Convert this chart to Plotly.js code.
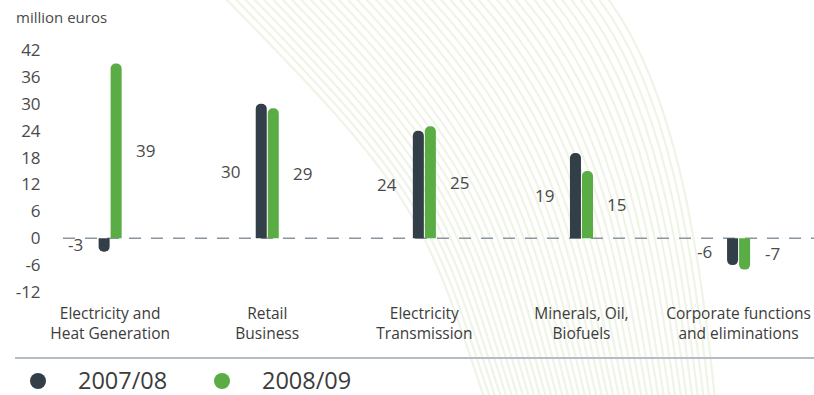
<!DOCTYPE html>
<html><head><meta charset="utf-8">
<script src="https://cdn.plot.ly/plotly-3.0.1.min.js"></script>
<style>html,body{margin:0;padding:0;background:#fff}#chart{width:814px;height:395px}</style>
</head><body><div id="chart"></div>
<script>
// ---- data ----
const categories = ['Electricity and<br>Heat Generation','Retail<br>Business','Electricity<br>Transmission','Minerals, Oil,<br>Biofuels','Corporate functions<br>and eliminations'];
const seriesNames = ['2007/08','2008/09'];
const values2007 = [-3, 30, 24, 19, -6];
const values2008 = [39, 29, 25, 15, -7];
const yTickVals = [-12, -6, 0, 6, 12, 18, 24, 30, 36, 42];
const unitLabel = 'million euros';

// ---- style ----
const W = 814, H = 395, ML = 63, MR = 0, MT = 50, MB = 103;
const PW = W - ML - MR, PH = H - MT - MB;
const px = x => (x - ML) / PW;            // pixel -> paper x
const py = y => (H - MB - y) / PH;        // pixel -> paper y
const DARK = '#333f48', GREEN = '#5aac44', TXT = '#4a4a4a';
const COLORS = [DARK, GREEN];
const FONT = 'Open Sans, Liberation Sans, sans-serif';

const xIdx = categories.map((c, i) => i);

const traces = [
  {type:'bar', x:xIdx, y:values2007, name:seriesNames[0], marker:{color:DARK, cornerradius:'50%'}, showlegend:false, hoverinfo:'skip'},
  {type:'bar', x:xIdx, y:values2008, name:seriesNames[1], marker:{color:GREEN, cornerradius:'50%'}, showlegend:false, hoverinfo:'skip'}
];

// value labels
const annotations = [];
values2007.forEach((v, i) => annotations.push({x:i, y:v/2, xref:'x', yref:'y', text:String(v), showarrow:false,
  xanchor:'right', yanchor:'middle', xshift:-25, font:{family:FONT, size:17, color:TXT}}));
values2008.forEach((v, i) => annotations.push({x:i, y:v/2, xref:'x', yref:'y', text:String(v), showarrow:false,
  xanchor:'left', yanchor:'middle', xshift:24, font:{family:FONT, size:17, color:TXT}}));
annotations.push({x:px(14), y:py(17), xref:'paper', yref:'paper', text:unitLabel, showarrow:false,
  xanchor:'left', yanchor:'middle', font:{family:FONT, size:15, color:TXT}});

const shapes = [];
// legend (circle + label per series)
const legendX = [38, 222], legendY = 380, R0 = 8;
seriesNames.forEach((name, i) => {
  shapes.push({type:'circle', xref:'paper', yref:'paper', x0:px(legendX[i]-R0), x1:px(legendX[i]+R0),
    y0:py(legendY+1+R0), y1:py(legendY+1-R0), fillcolor:COLORS[i], line:{width:0}});
  annotations.push({x:px(legendX[i]+39), y:py(legendY), xref:'paper', yref:'paper', text:name, showarrow:false,
    xanchor:'left', yanchor:'middle', borderpad:0, font:{family:FONT, size:23.5, color:'#3c3c3c'}});
});

// decorative background stripes
const N = 42;
const L = {p0:[222,-5], c1:[420,195], c2:[425,220], p2:[485,400]};
const R = {p0:[605,-5], c1:[675,85],  c2:[700,250], p2:[715,400]};
const lerp = (a, b, t) => [a[0] + (b[0]-a[0])*t, a[1] + (b[1]-a[1])*t];
const P = p => px(p[0]).toFixed(4) + ',' + py(p[1]).toFixed(4);
for (let k = 0; k < N; k++) {
  const t = k / (N - 1);
  const a = lerp(L.p0, R.p0, t), b = lerp(L.c1, R.c1, t), c = lerp(L.c2, R.c2, t), d = lerp(L.p2, R.p2, t);
  shapes.push({type:'path', xref:'paper', yref:'paper', layer:'below',
    path:'M' + P(a) + ' C' + P(b) + ' ' + P(c) + ' ' + P(d),
    line:{color:'rgba(180,205,140,0.22)', width:2.2}});
}
// zero line
shapes.push({type:'line', xref:'paper', yref:'y', x0:0, x1:1, y0:0, y1:0, layer:'below',
  line:{color:'#8c96a2', width:1.5, dash:'12px,10px'}});
// separator
shapes.push({type:'line', xref:'paper', yref:'paper', x0:px(15), x1:px(814), y0:py(358), y1:py(358),
  line:{color:'#b4bcc4', width:2}});

const layout = {
  width:W, height:H, margin:{l:ML, r:MR, t:MT, b:MB, autoexpand:false},
  paper_bgcolor:'#fff', plot_bgcolor:'rgba(0,0,0,0)',
  barmode:'group', bargap:0.847, bargroupgap:0.083,
  font:{family:FONT, color:TXT},
  xaxis:{range:[-0.3, 4.48], tickvals:xIdx, ticktext:categories, showgrid:false, zeroline:false, showline:false,
    ticks:'outside', ticklen:7, tickcolor:'rgba(0,0,0,0)', tickfont:{family:FONT, size:15.5, color:'#3c3c3c'}, fixedrange:true, automargin:false},
  yaxis:{range:[-12, 42], tickvals:yTickVals, ticktext:yTickVals.map(String), showgrid:false, zeroline:false, showline:false,
    ticks:'outside', ticklen:18, tickcolor:'rgba(0,0,0,0)', tickfont:{family:FONT, size:17, color:TXT}, fixedrange:true, automargin:false},
  showlegend:false,
  shapes:shapes, annotations:annotations
};

Plotly.newPlot('chart', traces, layout, {displayModeBar:false, staticPlot:true});
</script>
</body></html>
